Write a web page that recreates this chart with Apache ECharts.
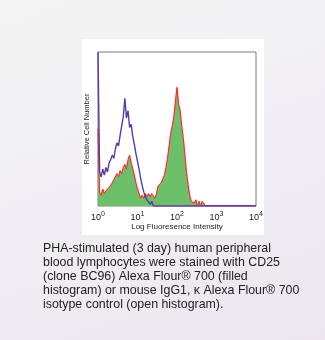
<!DOCTYPE html>
<html>
<head>
<meta charset="utf-8">
<script src="https://cdn.jsdelivr.net/npm/echarts@6/dist/echarts.min.js"></script>
<style>
  html, body { margin: 0; padding: 0; }
  body {
    width: 325px; height: 340px; overflow: hidden;
    background: linear-gradient(160deg, #f4f4f4 0%, #f1eff3 45%, #ebe6f0 100%);
  }
  #panel { position: absolute; left: 82px; top: 39px; width: 182px; height: 196px; background: #ffffff; }
  #chart { position: absolute; left: 0; top: 0; width: 325px; height: 340px; }
</style>
</head>
<body>
<div id="panel"></div>
<div id="chart"></div>
<script>
// Channel position on the log axis (decades above 10^0)
var channelExp = [0.00,0.04,0.08,0.12,0.16,0.20,0.24,0.28,0.32,0.36,0.40,0.44,0.48,0.52,0.56,0.60,0.64,0.68,0.72,0.76,
  0.80,0.84,0.88,0.92,0.96,1.00,1.04,1.08,1.12,1.16,1.20,1.24,1.28,1.32,1.36,1.40,1.44,1.48,1.52,1.56,
  1.60,1.64,1.68,1.72,1.76,1.80,1.84,1.88,1.92,1.96,2.00,2.04,2.08,2.12,2.16,2.20,2.24,2.28,2.32,2.36,
  2.40,2.44,2.48,2.52,2.56,2.60,2.64,2.68,2.72,2.76,2.80,3.00,4.00];

// Isotype control (open histogram), relative cell number
var isotypeCounts = [100,22,19,24,20,25,22,28,30,33,31,37,41,39,46,52,58,70,57,62,
  51,53,45,40,34,29,24,18,13,9,6,4,3,1,3,0,0,0,0,0,
  0,0,0,0,0,0,0,0,0,0,0,0,0,0,0,0,0,0,0,0,
  0,0,0,0,0,0,0,0,0,0,0,0,0];

// CD25 stained cells (filled histogram), relative cell number
var cd25Counts = [50,9,7,11,8,10,9,12,11,15,17,16,21,19,23,21,25,27,24,30,
  33,28,24,20,15,11,8,5,7,5,8,6,8,6,8,7,5,8,13,12,
  15,14,20,25,31,39,47,52,58,68,77,66,62,52,44,33,22,14,7,3,
  4,2,4,0,3,0,3,2,0,0,0,0,0];

// Decade tick labels
var decadeTicks = [0, 1, 2, 3, 4];

var captionLines = [
  'PHA-stimulated (3 day) human peripheral',
  'blood lymphocytes were stained with CD25',
  '(clone BC96) Alexa Flour\u00AE 700 (filled',
  'histogram) or mouse IgG1, \u03BA Alexa Flour\u00AE 700',
  'isotype control (open histogram).'
];

function pairs(xs, ys) {
  return xs.map(function (x, i) { return [x, ys[i]]; });
}

var chart = echarts.init(document.getElementById('chart'), null, { renderer: 'canvas' });
chart.setOption({
  backgroundColor: 'transparent',
  animation: false,
  grid: {
    left: 98, top: 52, width: 158, height: 154,
    show: true, borderColor: '#7a7a7a', borderWidth: 1, backgroundColor: 'transparent'
  },
  xAxis: {
    type: 'value', min: 0, max: 4, interval: 1,
    name: 'Log Fluoresence Intensity',
    nameLocation: 'middle', nameGap: 16,
    nameTextStyle: { fontFamily: 'Liberation Sans', fontSize: 8, color: '#222' },
    axisLine: { show: false },
    axisTick: { show: false },
    splitLine: { show: false },
    axisLabel: {
      margin: 5,
      formatter: function (v) {
        return decadeTicks.indexOf(v) >= 0 ? '{b|10}{s|' + v + '}' : '';
      },
      rich: {
        b: { fontFamily: 'Liberation Sans', fontSize: 9, color: '#222' },
        s: { fontFamily: 'Liberation Sans', fontSize: 7, color: '#222', padding: [0, 0, 6, 0] }
      }
    }
  },
  yAxis: {
    type: 'value', min: 0, max: 100,
    name: 'Relative Cell Number',
    nameLocation: 'middle', nameGap: 7,
    nameTextStyle: { fontFamily: 'Liberation Sans', fontSize: 7.5, color: '#222' },
    axisLine: { show: false }, axisTick: { show: false },
    axisLabel: { show: false }, splitLine: { show: false }
  },
  series: [
    {
      name: 'CD25',
      type: 'line',
      data: pairs(channelExp, cd25Counts),
      showSymbol: false,
      clip: true,
      lineStyle: { color: '#d8332e', width: 1, shadowColor: 'rgba(240,120,120,0.8)', shadowBlur: 2 },
      areaStyle: { color: '#6cc06a', opacity: 1 },
      z: 2
    },
    {
      name: 'Isotype',
      type: 'line',
      data: pairs(channelExp, isotypeCounts),
      showSymbol: false,
      clip: true,
      lineStyle: { color: '#5a3b9e', width: 1.4 },
      z: 3
    }
  ],
  graphic: [
    {
      type: 'text', left: 43, top: 242,
      style: {
        text: captionLines.join('\n'),
        fontFamily: 'Liberation Sans', fontSize: 12.4, lineHeight: 14,
        fill: '#222'
      }
    }
  ]
});
</script>
</body>
</html>
